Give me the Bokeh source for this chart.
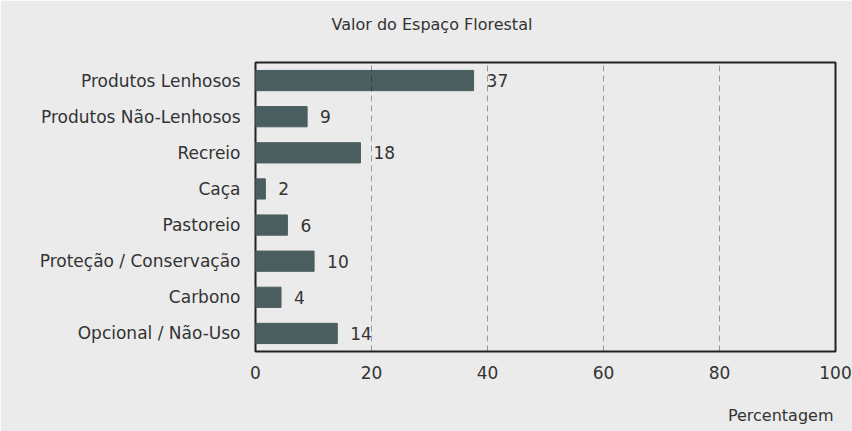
from bokeh.plotting import figure
from bokeh.models import FactorRange, Range1d, ColumnDataSource, FixedTicker, Title
from bokeh.core.properties import value
from bokeh.embed import file_html
from bokeh.resources import INLINE

categories = ["Produtos Lenhosos", "Produtos Não-Lenhosos", "Recreio", "Caça",
              "Pastoreio", "Proteção / Conservação", "Carbono", "Opcional / Não-Uso"]
values = [37.6, 8.9, 18.1, 1.7, 5.5, 10.1, 4.4, 14.1]
value_labels = ["37", "9", "18", "2", "6", "10", "4", "14"]
x_ticks = [0, 20, 40, 60, 80, 100]
title_text = "Valor do Espaço Florestal"
x_label_text = "Percentagem"

FONT = "DejaVu Sans"
TXT = "#333333"
BG = "#ebebeb"

src = ColumnDataSource(dict(cat=categories, val=values, lab=value_labels))

p = figure(width=852, height=431, output_backend="svg", toolbar_location=None,
           y_range=FactorRange(factors=categories[::-1], range_padding=0),
           x_range=Range1d(0, 100),
           min_border_left=255, min_border_right=17, min_border_top=62, min_border_bottom=80)

p.background_fill_color = BG
p.border_fill_color = BG
p.outline_line_color = "#222222"
p.outline_line_width = 2

# title: trailing empty line lifts it away from the frame
p.title.text = title_text + "\n"
p.title.align = "left"
p.title.offset = 76
p.title.standoff = 20
p.title.text_font = FONT
p.title.text_font_size = "16px"
p.title.text_font_style = "normal"
p.title.text_color = TXT

p.hbar(y="cat", right="val", height=0.56, source=src, color="#4b5e5f")
p.text(x="val", y="cat", text="lab", source=src, x_offset=13, text_baseline="middle",
       text_font=value(FONT), text_font_size="17px", text_color=TXT)

p.xaxis.ticker = FixedTicker(ticks=x_ticks)
for ax in (p.xaxis[0], p.yaxis[0]):
    ax.axis_line_color = None
    ax.major_tick_line_color = None
    ax.minor_tick_line_color = None
    ax.major_label_text_font = FONT
    ax.major_label_text_font_size = "17px"
    ax.major_label_text_color = TXT
p.xaxis.major_label_standoff = 8
p.yaxis.major_label_standoff = 9

p.ygrid.grid_line_color = None
p.xgrid.grid_line_color = "black"
p.xgrid.grid_line_alpha = 0.35
p.xgrid.grid_line_dash = "6 4"
p.xgrid.level = "annotation"

xl = Title(text="\n" + x_label_text, align="right", offset=2, text_font=FONT,
           text_font_size="16px", text_font_style="normal", text_color=TXT, standoff=6)
p.add_layout(xl, "below")

html = file_html(p, INLINE)
html = html.replace("<body>", '<body style="background:%s">' % BG, 1)
open("out.html", "w").write(html)
